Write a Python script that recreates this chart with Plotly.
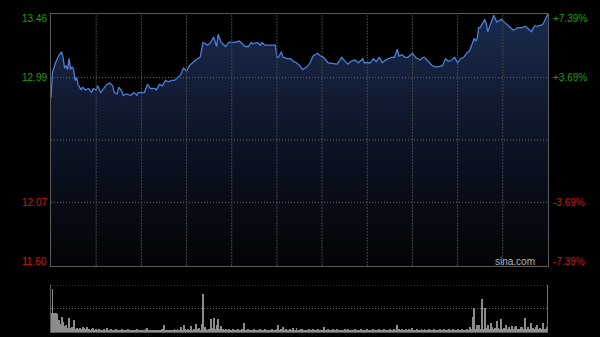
import plotly.graph_objects as go

# ---- data ----
minutes = [0,1,3,4,5,7,8,9,10,11,12,13,14,15,16,17,18,20,21,23,25,27,28,30,31,33,35,37,39,41,42,44,45,47,48,50,53,55,57,58,60,62,64,66,69,70,72,74,76,78,80,82,
           86,88,90,92,96,99,101,104,106,108,110,111,113,116,118,120,122,125,127,129,131,133,134,137,139,140,142,145,149,150,151,153,154,157,159,161,163,165,
           167,170,172,174,177,179,181,184,190,193,197,199,202,204,207,208,212,214,216,218,220,222,224,226,228,230,231,233,235,237,240,242,245,247,
           248,253,255,257,260,262,264,266,268,270,272,274,276,278,280,281,282,283,284,285,286,288,289,290,292,294,296,298,299,301,303,307,310,313,315,317,319,321,323,326,327,329,330]
prices = [12.84,13.03,13.10,13.13,13.15,13.18,13.14,13.06,13.08,13.05,13.13,13.05,13.07,13.05,12.97,12.99,12.94,12.90,12.92,12.90,12.91,12.88,12.91,12.90,12.93,12.88,12.91,12.94,12.95,12.93,12.88,12.87,12.92,12.89,12.86,12.87,12.86,12.88,12.86,12.88,12.88,12.88,12.94,12.91,12.91,12.90,12.94,12.93,12.97,12.96,12.97,12.97,
          13.01,13.06,13.04,13.08,13.12,13.14,13.25,13.23,13.25,13.29,13.22,13.31,13.25,13.22,13.25,13.25,13.25,13.26,13.24,13.22,13.22,13.25,13.24,13.25,13.23,13.25,13.23,13.23,13.23,13.14,13.14,13.18,13.14,13.13,13.13,13.11,13.10,13.08,
          13.05,13.07,13.10,13.15,13.17,13.15,13.14,13.10,13.09,13.14,13.09,13.11,13.12,13.10,13.13,13.10,13.10,13.13,13.11,13.14,13.10,13.12,13.13,13.14,13.14,13.20,13.15,13.16,13.14,13.14,13.17,13.14,13.12,13.14,
          13.14,13.08,13.07,13.07,13.08,13.13,13.11,13.12,13.14,13.10,13.13,13.14,13.17,13.19,13.25,13.28,13.26,13.28,13.36,13.36,13.38,13.42,13.39,13.33,13.39,13.45,13.40,13.41,13.42,13.40,13.38,13.34,13.36,13.36,13.37,13.35,13.33,13.37,13.37,13.38,13.39,13.44,13.46]

volumes = [19,43,19,19,18,12,8,15,10,6,
           7,4,14,4,5,12,3,4,3,4,
           3,5,4,3,5,3,2,3,4,2,
           3,2,3,2,2,3,2,4,2,2,
           3,2,2,3,2,2,2,3,2,2,
           2,3,2,2,2,2,2,3,2,2,
           2,2,2,3,4,2,2,2,2,2,
           2,2,2,2,3,7,2,2,2,2,
           2,2,3,2,3,2,5,2,7,3,
           2,3,2,6,2,3,8,3,4,2,
           8,38,5,3,2,3,13,4,14,3,
           7,13,3,6,3,2,3,2,3,2,
           2,3,2,2,3,2,2,3,9,2,
           2,3,2,2,2,3,2,2,2,3,
           2,2,3,2,2,2,2,3,2,2,
           3,7,2,3,5,2,3,2,2,3,
           2,4,2,4,2,2,3,3,2,2,
           2,3,2,2,3,2,2,3,2,2,
           2,5,2,2,3,2,2,3,2,2,
           3,2,2,2,2,3,2,3,2,2,
           2,2,3,2,2,2,3,2,2,2,
           3,2,2,2,3,2,2,2,3,2,
           2,3,2,2,2,3,2,2,3,2,
           7,3,2,3,2,2,3,2,3,2,
           4,2,2,3,2,2,3,2,3,2,
           2,3,2,2,3,2,2,2,3,2,
           2,3,2,2,3,2,2,3,2,2,
           3,2,2,3,2,2,3,2,5,3,
           15,24,3,7,7,3,33,3,24,4,
           7,3,9,5,3,4,11,4,3,13,
           3,4,7,3,5,3,6,3,5,6,
           3,3,5,5,3,14,3,5,3,9,
           4,3,5,7,3,4,3,9,3,5,
           47]
vol_minutes = list(range(len(volumes)))

prev_close = 12.53
price_min, price_max = 11.60, 13.46
label_values = [13.46, 12.99, 12.07, 11.60]
left_labels = ["13.46", "12.99", "12.07", "11.60"]
right_labels = ["+7.39%", "+3.69%", "-3.69%", "-7.39%"]
session_len = 330
grid_minutes = [30, 60, 90, 120, 150, 180, 210, 240, 270, 300]
grid_prices = [12.99, prev_close, 12.07]

GREEN = "#14a014"
RED = "#d01818"
FONT = "Liberation Sans, Arial, sans-serif"

fig = go.Figure()

# baseline for the gradient fill
fig.add_trace(go.Scatter(
    x=[minutes[0], minutes[-1]], y=[price_min, price_min], mode="lines",
    line=dict(width=0, color="rgba(0,0,0,0)"), hoverinfo="skip",
    xaxis="x", yaxis="y"))
fig.add_trace(go.Scatter(
    x=minutes, y=prices, mode="lines",
    line=dict(color="#4d7fd8", width=1.3),
    fill="tonexty",
    fillgradient=dict(type="vertical",
                      colorscale=[[0, "#030406"], [0.45, "#0b1222"], [1, "#1b2b4e"]]),
    hoverinfo="skip", xaxis="x", yaxis="y"))

fig.add_trace(go.Bar(
    x=vol_minutes, y=volumes, width=0.65,
    marker=dict(color="#8c8c8c", line=dict(width=0)),
    hoverinfo="skip", xaxis="x2", yaxis="y2"))

main_dom = [(337 - 266) / 337, (337 - 14) / 337]
vol_dom = [(337 - 332) / 337, (337 - 285) / 337]

fig.update_layout(
    width=600, height=337,
    margin=dict(l=51, r=52, t=0, b=0),
    paper_bgcolor="#000000", plot_bgcolor="#000000",
    showlegend=False, bargap=0,
    font=dict(family=FONT, size=10),
    xaxis=dict(domain=[0, 1], range=[0, session_len], showticklabels=False,
               showgrid=False, zeroline=False, showline=True, mirror=True,
               linecolor="#5a5a5a", linewidth=1, ticks=""),
    yaxis=dict(domain=main_dom, range=[price_min, price_max], showticklabels=False,
               showgrid=False, zeroline=False, showline=True, mirror=True,
               linecolor="#5a5a5a", linewidth=1, ticks=""),
    xaxis2=dict(domain=[0, 1], range=[0, session_len], anchor="y2",
                showticklabels=False, showgrid=False, zeroline=False,
                showline=True, linecolor="#5a5a5a", linewidth=1, ticks=""),
    yaxis2=dict(domain=vol_dom, range=[0, max(volumes)], anchor="x2",
                showticklabels=False, showgrid=False, zeroline=False,
                showline=True, linecolor="#5a5a5a", linewidth=1, ticks=""),
)

# grid lines drawn over the fill
for m in grid_minutes:
    fig.add_shape(type="line", layer="above", xref="x", yref="paper",
                  x0=m, x1=m, y0=main_dom[0], y1=main_dom[1],
                  line=dict(color="#444444", width=1, dash="2px,1px"))
for p in grid_prices:
    fig.add_shape(type="line", layer="above", xref="paper", yref="y",
                  x0=0, x1=1, y0=p, y1=p,
                  line=dict(color="#6a6a6a", width=1, dash="1px,2px"))
for v in [max(volumes) / 2, max(volumes)]:
    fig.add_shape(type="line", layer="above", xref="paper", yref="y2",
                  x0=0, x1=1, y0=v, y1=v,
                  line=dict(color="#6a6a6a", width=1, dash="1px,2px"))
fig.add_shape(type="line", xref="x2", yref="y2", x0=session_len, x1=session_len,
              y0=0, y1=max(volumes), line=dict(color="#5a5a5a", width=1))

shifts = [-5, 0, 0, 5]
for v, lt, rt, s in zip(label_values, left_labels, right_labels, shifts):
    col = GREEN if v > prev_close else RED
    fig.add_annotation(x=0, xref="paper", y=v, yref="y", text=lt, showarrow=False,
                       xanchor="right", yanchor="middle", xshift=-2, yshift=s,
                       font=dict(color=col, size=10, family=FONT))
    fig.add_annotation(x=1, xref="paper", y=v, yref="y", text=rt, showarrow=False,
                       xanchor="left", yanchor="middle", xshift=3, yshift=s,
                       font=dict(color=col, size=10, family=FONT))

fig.add_annotation(x=(537 - 51) / 497, xref="paper", y=price_min, yref="y",
                   text="sina.com", showarrow=False, xanchor="right",
                   yanchor="middle", yshift=5,
                   font=dict(color="#b4b4b4", size=10, family=FONT))

fig.write_html("out.html", config={"displayModeBar": False})
